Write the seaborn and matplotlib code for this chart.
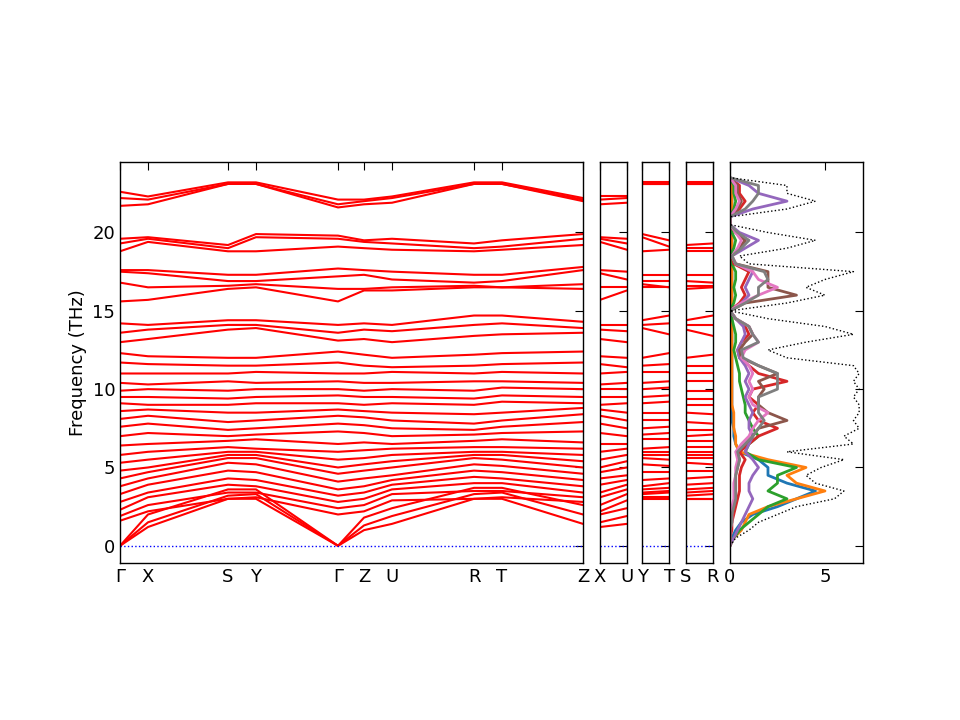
import numpy as np
import matplotlib
matplotlib.use("Agg")
import matplotlib.pyplot as plt
import seaborn as sns

sns.set_style("white")
plt.rcParams['font.family'] = ['DejaVu Sans']
plt.rcParams['font.size'] = 13
plt.rcParams['text.color'] = 'black'
plt.rcParams['axes.labelcolor'] = 'black'
plt.rcParams['xtick.color'] = 'black'
plt.rcParams['ytick.color'] = 'black'

# high-symmetry path (pixel-proportional distances)
kpos = [0, 28, 108, 136, 218, 244, 272, 354, 382, 463]
klabels = ["Γ", "X", "S", "Y", "Γ", "Z", "U", "R", "T", "Z"]

# band frequencies (THz) at each high-symmetry point
bands = [
    [0, 1.2, 3.0, 3.0, 0, 1.0, 1.4, 3.0, 3.0, 1.4],
    [0, 1.5, 3.2, 3.3, 0, 1.3, 1.9, 3.3, 3.4, 2.0],
    [0, 2.0, 3.6, 3.6, 0, 1.8, 2.4, 3.7, 3.7, 2.6],
    [1.6, 2.2, 3.0, 3.1, 2.0, 2.2, 2.9, 3.0, 3.1, 2.8],
    [1.9, 2.6, 3.4, 3.4, 2.4, 2.6, 3.3, 3.5, 3.5, 3.1],
    [2.3, 3.1, 3.9, 3.8, 2.8, 3.0, 3.6, 4.0, 4.0, 3.4],
    [2.8, 3.4, 4.3, 4.2, 3.2, 3.4, 3.9, 4.4, 4.3, 3.8],
    [3.3, 3.9, 4.8, 4.7, 3.6, 3.8, 4.2, 4.8, 4.7, 4.2],
    [3.8, 4.3, 5.3, 5.2, 4.1, 4.3, 4.5, 5.2, 5.1, 4.6],
    [4.3, 4.7, 5.6, 5.6, 4.6, 4.8, 5.0, 5.6, 5.5, 5.0],
    [4.8, 5.0, 5.8, 5.8, 5.0, 5.2, 5.4, 5.8, 5.8, 5.4],
    [5.3, 5.5, 6.0, 6.0, 5.5, 5.6, 5.8, 6.0, 6.0, 5.8],
    [5.8, 6.0, 6.3, 6.2, 6.0, 6.1, 6.2, 6.3, 6.3, 6.2],
    [6.4, 6.5, 6.7, 6.8, 6.5, 6.6, 6.5, 6.7, 6.8, 6.6],
    [7.0, 7.2, 7.0, 7.1, 7.3, 7.2, 7.0, 7.1, 7.2, 7.3],
    [7.6, 7.8, 7.4, 7.5, 7.8, 7.7, 7.5, 7.4, 7.6, 7.9],
    [8.1, 8.3, 7.9, 8.0, 8.3, 8.2, 8.0, 7.8, 8.0, 8.4],
    [8.6, 8.7, 8.5, 8.5, 8.7, 8.6, 8.5, 8.4, 8.5, 8.8],
    [9.1, 9.0, 9.0, 9.1, 9.1, 9.0, 9.1, 9.0, 9.2, 9.1],
    [9.5, 9.5, 9.4, 9.5, 9.6, 9.5, 9.5, 9.4, 9.6, 9.5],
    [9.9, 10.0, 9.9, 10.0, 10.0, 9.9, 10.0, 9.9, 10.1, 10.0],
    [10.4, 10.3, 10.5, 10.4, 10.5, 10.4, 10.4, 10.5, 10.5, 10.4],
    [11.0, 11.0, 11.0, 11.1, 11.0, 11.0, 11.1, 11.0, 11.1, 11.0],
    [11.7, 11.6, 11.5, 11.5, 11.7, 11.5, 11.4, 11.5, 11.6, 11.7],
    [12.3, 12.1, 12.0, 12.0, 12.4, 12.2, 12.0, 12.2, 12.3, 12.4],
    [13.0, 13.2, 13.8, 13.9, 13.1, 13.2, 13.0, 13.4, 13.5, 13.6],
    [13.6, 13.8, 14.1, 14.1, 13.6, 13.8, 13.7, 14.1, 14.2, 13.9],
    [14.2, 14.1, 14.4, 14.4, 14.1, 14.2, 14.1, 14.7, 14.7, 14.3],
    [15.6, 15.7, 16.4, 16.5, 15.6, 16.3, 16.3, 16.5, 16.5, 16.4],
    [16.8, 16.5, 16.6, 16.7, 16.4, 16.4, 16.5, 16.6, 16.5, 16.7],
    [17.5, 17.4, 16.9, 16.9, 17.2, 17.3, 17.0, 16.8, 16.9, 17.6],
    [17.6, 17.6, 17.3, 17.3, 17.7, 17.6, 17.5, 17.3, 17.3, 17.8],
    [18.8, 19.4, 18.8, 18.8, 19.1, 19.0, 18.9, 18.8, 18.9, 19.2],
    [19.3, 19.6, 19.0, 19.7, 19.6, 19.4, 19.3, 19.0, 19.1, 19.6],
    [19.6, 19.7, 19.2, 19.9, 19.8, 19.5, 19.6, 19.3, 19.5, 19.9],
    [21.7, 21.8, 23.1, 23.1, 21.6, 21.8, 21.9, 23.1, 23.1, 22.0],
    [22.2, 22.1, 23.1, 23.1, 21.8, 22.0, 22.2, 23.1, 23.1, 22.1],
    [22.6, 22.3, 23.2, 23.2, 22.1, 22.1, 22.3, 23.2, 23.2, 22.2],
]

# short branches: (start index, end index, labels)
branches = [(1, 6, ["X", "U"]), (3, 8, ["Y", "T"]), (2, 7, ["S", "R"])]

# density of states vs frequency
dos_freq = np.arange(0, 24, 0.5)
dos_total = [0, 0.3, 1.0, 1.5, 2.5, 3.5, 5.5, 6.0, 4.5, 4.0, 4.8, 6.0, 3.0, 6.5, 6.0, 6.8,
             6.5, 6.8, 6.8, 6.5, 6.8, 6.5, 6.8, 6.5, 3.0, 2.0, 4.0, 6.5, 5.0, 2.0, 0, 3.0,
             5.0, 4.0, 5.0, 6.5, 1.0, 0.5, 3.0, 4.5, 2.0, 0, 0, 3.0, 4.5, 3.0, 3.0, 0]
dos_parts = {
    "C0": [0, 0.1, 0.3, 0.6, 1.2, 2.5, 3.5, 4.5, 3.0, 2.0, 2.0, 1.5, 0.5, 0.3, 0.2, 0.2,
           0.1, 0.1, 0.1, 0.1, 0.1, 0.1, 0.1, 0.1, 0.1, 0.1, 0.1, 0.1, 0.1, 0.1, 0, 0.1,
           0.1, 0.1, 0.1, 0.1, 0.1, 0, 0.1, 0.1, 0.1, 0, 0, 0.1, 0.1, 0.1, 0.1, 0],
    "C1": [0, 0.2, 0.6, 0.8, 1.0, 2.0, 3.5, 5.0, 3.5, 3.0, 4.0, 2.0, 0.5, 0.3, 0.3, 0.2,
           0.2, 0.2, 0.1, 0.1, 0.1, 0.1, 0.1, 0.1, 0.1, 0.1, 0.1, 0.1, 0.1, 0.1, 0, 0.1,
           0.1, 0.1, 0.1, 0.1, 0.1, 0, 0.1, 0.1, 0.1, 0, 0, 0.1, 0.1, 0.1, 0.1, 0],
    "C2": [0, 0.2, 0.5, 1.0, 1.5, 2.0, 3.0, 2.0, 2.5, 2.5, 3.5, 1.5, 0.8, 1.0, 1.5, 1.2,
           1.0, 0.8, 0.8, 0.7, 0.6, 0.5, 0.5, 0.4, 0.3, 0.2, 0.3, 0.3, 0.2, 0.1, 0, 0.2,
           0.3, 0.2, 0.3, 0.3, 0.1, 0, 0.2, 0.3, 0.1, 0, 0, 0.2, 0.3, 0.2, 0.2, 0],
    "C3": [0, 0, 0.1, 0.1, 0.2, 0.3, 0.4, 0.5, 0.5, 0.5, 0.6, 0.8, 0.5, 1.0, 1.5, 2.5,
           1.5, 1.2, 1.5, 1.0, 1.2, 3.0, 1.5, 1.0, 0.5, 0.4, 0.6, 1.0, 0.8, 0.3, 0, 0.5,
           0.8, 0.6, 0.8, 1.0, 0.2, 0.1, 0.5, 0.8, 0.3, 0, 0, 0.5, 0.8, 0.5, 0.5, 0],
    "C4": [0, 0.2, 0.4, 0.6, 0.8, 1.0, 1.2, 1.0, 1.0, 1.2, 1.5, 1.2, 0.8, 1.0, 1.2, 1.0,
           1.0, 1.2, 1.0, 0.8, 1.0, 0.8, 1.0, 0.8, 0.5, 0.4, 0.6, 0.8, 0.7, 0.3, 0, 0.6,
           1.0, 0.8, 1.0, 1.2, 0.3, 0.1, 0.8, 1.5, 0.5, 0, 0, 1.2, 3.0, 1.5, 1.0, 0],
    "C5": [0, 0, 0, 0.1, 0.1, 0.2, 0.3, 0.3, 0.3, 0.3, 0.4, 0.5, 0.4, 0.8, 1.2, 1.5,
           3.0, 2.0, 1.5, 1.5, 1.8, 1.5, 2.5, 1.5, 0.6, 0.5, 0.8, 1.2, 1.0, 0.3, 0, 0.8,
           3.5, 2.0, 2.0, 2.0, 0.3, 0.1, 0.5, 0.8, 0.3, 0, 0, 0.4, 0.6, 0.4, 0.4, 0],
    "C6": [0, 0, 0, 0.1, 0.1, 0.1, 0.2, 0.2, 0.2, 0.3, 0.3, 0.4, 0.3, 0.6, 1.0, 1.2,
           1.5, 2.0, 1.2, 1.0, 1.2, 1.0, 1.2, 1.0, 0.6, 0.8, 1.5, 1.2, 1.0, 0.3, 0, 0.6,
           1.5, 2.5, 1.5, 1.2, 0.3, 0.1, 0.4, 0.6, 0.3, 0, 0, 0.3, 0.5, 0.3, 0.3, 0],
    "C7": [0, 0, 0, 0.1, 0.1, 0.2, 0.3, 0.3, 0.3, 0.3, 0.4, 0.5, 0.4, 0.8, 1.2, 1.5,
           1.8, 1.5, 1.5, 1.5, 2.5, 2.5, 2.5, 1.5, 0.7, 0.6, 1.5, 1.2, 1.0, 0.3, 0, 0.8,
           1.5, 1.5, 2.0, 1.8, 0.3, 0.1, 0.6, 1.0, 0.4, 0, 0, 0.8, 1.2, 1.5, 1.5, 0],
}

ylim = (-1.1, 24.5)
fig = plt.figure(figsize=(9.6, 7.2), dpi=100)
bottom, height = 0.218, 0.557


def style(ax):
    ax.set_ylim(*ylim)
    ax.tick_params(direction="in", top=True, right=True, length=6, labelsize=13,
                   colors="black")
    ax.set_yticks([0, 5, 10, 15, 20])
    for s in ax.spines.values():
        s.set_color("black")
        s.set_linewidth(1.0)


ax = fig.add_axes([0.125, bottom, 0.4823, height])
for b in bands:
    sns.lineplot(x=kpos, y=b, ax=ax, color="red", lw=1.5, sort=False, estimator=None)
ax.axhline(0, color="blue", ls=":", lw=1)
ax.set_xlim(kpos[0], kpos[-1])
ax.set_xticks(kpos)
ax.set_xticklabels(klabels)
ax.set_ylabel("Frequency (THz)", color="black")
style(ax)

lefts = [0.625, 0.669, 0.7146]
for left, (i0, i1, labs) in zip(lefts, branches):
    a = fig.add_axes([left, bottom, 0.028, height])
    for b in bands:
        sns.lineplot(x=[0, 1], y=[b[i0], b[i1]], ax=a, color="red", lw=1.5,
                     sort=False, estimator=None)
    a.axhline(0, color="blue", ls=":", lw=1)
    a.set_xlim(0, 1)
    a.set_xticks([0, 1])
    a.set_xticklabels(labs)
    style(a)
    a.set_yticklabels([])

ad = fig.add_axes([0.7604, bottom, 0.1385, height])
for col, vals in dos_parts.items():
    sns.lineplot(x=vals, y=dos_freq, ax=ad, color=col, lw=2, sort=False, estimator=None)
sns.lineplot(x=dos_total, y=dos_freq, ax=ad, color="black", ls=":", lw=1,
             sort=False, estimator=None)
ad.set_xlim(0, 7.0)
ad.set_xticks([0, 5])
style(ad)
ad.set_yticklabels([])

fig.savefig("out.png", dpi=100)
